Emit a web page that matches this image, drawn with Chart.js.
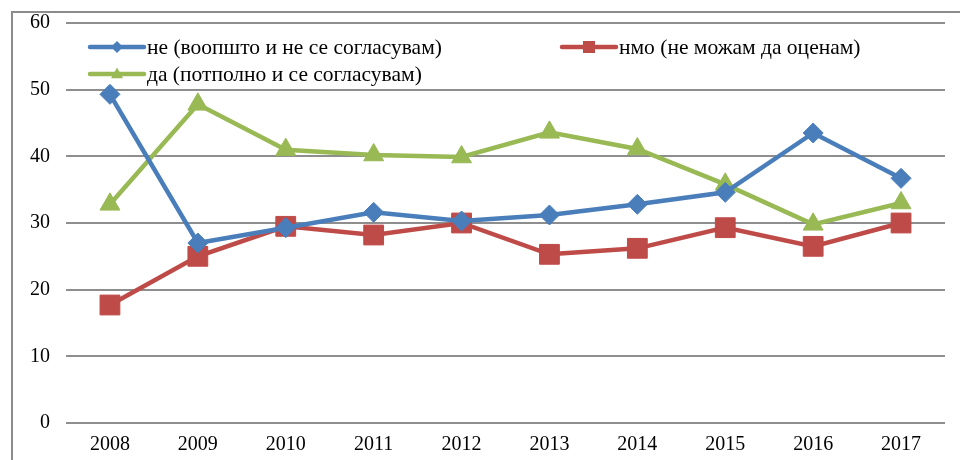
<!DOCTYPE html>
<html>
<head>
<meta charset="utf-8">
<script src="https://cdn.jsdelivr.net/npm/chart.js@4.4.1/dist/chart.umd.min.js"></script>
<style>
  html, body { margin: 0; padding: 0; background: #fff; }
  #wrap { position: relative; width: 960px; height: 460px; overflow: hidden; }
  #frame { position: absolute; left: 11px; top: 11px; width: 960px; height: 460px;
           border-left: 2px solid #8c8c8c; border-top: 2px solid #8c8c8c; }
  canvas { position: absolute; left: 0; top: 0; }
</style>
</head>
<body>
<div id="wrap">
  <div id="frame"></div>
  <canvas id="chart" width="960" height="460"></canvas>
</div>
<script>
const years = ['2008', '2009', '2010', '2011', '2012', '2013', '2014', '2015', '2016', '2017'];
const seriesNames = [
  'не (воопшто и не се согласувам)',
  'нмо (не можам да оценам)',
  'да (потполно и се согласувам)'
];
const neValues = [49.3, 27.0, 29.3, 31.6, 30.3, 31.2, 32.8, 34.6, 43.5, 36.7];
const nmoValues = [17.7, 25.0, 29.5, 28.2, 30.0, 25.3, 26.2, 29.3, 26.5, 30.0];
const daValues = [32.8, 47.8, 41.0, 40.2, 39.9, 43.6, 41.1, 35.8, 29.8, 33.0];
const yTicks = [0, 10, 20, 30, 40, 50, 60];

const blue = '#4A7EBB';
const red = '#BE4B48';
const green = '#98B954';

// legend drawn by hand, items sit inside the plot like the original
const legendItems = [
  { text: seriesNames[0], color: blue, shape: 'diamond', x: 90, y: 47 },
  { text: seriesNames[1], color: red, shape: 'square', x: 562, y: 47 },
  { text: seriesNames[2], color: green, shape: 'triangle', x: 90, y: 74 },
];

function drawMarker(ctx, shape, x, y, s) {
  ctx.beginPath();
  if (shape === 'diamond') {
    ctx.moveTo(x, y - s); ctx.lineTo(x + s, y); ctx.lineTo(x, y + s); ctx.lineTo(x - s, y);
  } else if (shape === 'square') {
    ctx.rect(x - s, y - s, 2 * s, 2 * s);
  } else {
    ctx.moveTo(x, y - s * 1.1); ctx.lineTo(x + s, y + s * 0.7); ctx.lineTo(x - s, y + s * 0.7);
  }
  ctx.closePath();
  ctx.fill();
}

const insideLegend = {
  id: 'insideLegend',
  afterDraw(chart) {
    const ctx = chart.ctx;
    ctx.save();
    ctx.font = '21.5px "Liberation Serif", "Times New Roman", serif';
    ctx.textBaseline = 'middle';
    for (const it of legendItems) {
      ctx.strokeStyle = it.color;
      ctx.fillStyle = it.color;
      ctx.lineWidth = 4.5;
      ctx.lineCap = 'round';
      ctx.beginPath();
      ctx.moveTo(it.x, it.y);
      ctx.lineTo(it.x + 54, it.y);
      ctx.stroke();
      drawMarker(ctx, it.shape, it.x + 27, it.y, 6);
      ctx.fillStyle = '#000';
      ctx.fillText(it.text, it.x + 57, it.y + 1);
    }
    ctx.restore();
  }
};

const ctx = document.getElementById('chart').getContext('2d');

new Chart(ctx, {
  type: 'line',
  data: {
    labels: years,
    datasets: [
      {
        label: seriesNames[0],
        data: neValues,
        borderColor: blue,
        backgroundColor: blue,
        borderWidth: 4.5,
        pointStyle: 'rectRot',
        pointRadius: 10,
        pointBorderWidth: 1,
        tension: 0,
      },
      {
        label: seriesNames[1],
        data: nmoValues,
        borderColor: red,
        backgroundColor: red,
        borderWidth: 4.5,
        pointStyle: 'rect',
        pointRadius: 14,
        pointBorderWidth: 1,
        tension: 0,
      },
      {
        label: seriesNames[2],
        data: daValues,
        borderColor: green,
        backgroundColor: green,
        borderWidth: 4.5,
        pointStyle: 'triangle',
        pointRadius: 11.5,
        pointBorderWidth: 1,
        tension: 0,
      },
    ],
  },
  options: {
    responsive: false,
    animation: false,
    layout: { padding: { left: 0, right: 15, top: 23, bottom: 0 } },
    plugins: {
      legend: { display: false },
      tooltip: { enabled: false },
    },
    scales: {
      x: {
        offset: true,
        grid: { display: false, drawTicks: false },
        border: { display: false },
        ticks: {
          color: '#000',
          font: { family: '"Liberation Serif", "Times New Roman", serif', size: 20 },
          padding: 10,
          maxRotation: 0,
        },
        afterFit: (scale) => { scale.height = 37; scale.paddingLeft = 0; scale.paddingRight = 0; },
      },
      y: {
        min: 0,
        max: 60,
        afterBuildTicks: (scale) => { scale.ticks = yTicks.map((v) => ({ value: v })); },
        grid: { color: '#8e8e8e', lineWidth: 2, drawTicks: false },
        border: { display: false },
        ticks: {
          color: '#000',
          font: { family: '"Liberation Serif", "Times New Roman", serif', size: 20 },
          padding: 16,
        },
        afterFit: (scale) => { scale.width = 66; scale.paddingTop = 0; scale.paddingBottom = 0; },
      },
    },
  },
  plugins: [insideLegend],
});
</script>
</body>
</html>
